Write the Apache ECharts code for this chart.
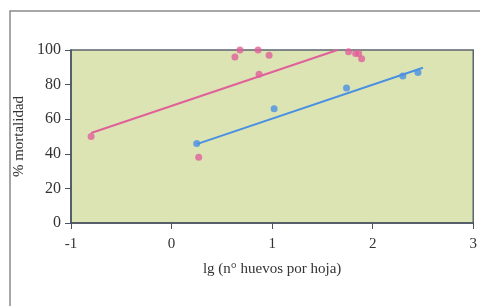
<!DOCTYPE html>
<html><head><meta charset="utf-8">
<script src="https://cdn.jsdelivr.net/npm/echarts@6/dist/echarts.min.js"></script>
<style>html,body{margin:0;padding:0;background:#fff}#c{width:480px;height:306px}</style>
</head><body><div id="c"></div>
<script>
const xTicks = [-1, 0, 1, 2, 3];
const yTicks = [0, 20, 40, 60, 80, 100];
const pinkPoints = [[-0.80, 50], [0.27, 38], [0.63, 96], [0.68, 100], [0.86, 100], [0.97, 97], [0.87, 86], [1.76, 99], [1.83, 98], [1.86, 98], [1.89, 95]];
const bluePoints = [[0.25, 46], [1.02, 66], [1.74, 78], [2.30, 85], [2.45, 87]];
const pinkLine = [[-0.80, 52], [1.65, 100]];
const blueLine = [[0.25, 45.6], [2.5, 89.7]];
const xTitle = 'lg (n° huevos por hoja)';
const yTitle = '% mortalidad';

const font = '"Liberation Serif", "DejaVu Serif", serif';
const chart = echarts.init(document.getElementById('c'));
chart.setOption({
  animation: false,
  graphic: [{type: 'rect', shape: {x: 10, y: 11, width: 500, height: 320}, style: {fill: 'none', stroke: '#8a8a8a', lineWidth: 1.5}, z: -10}],
  grid: {left: 71, right: 4, top: 50, bottom: 83, show: true, backgroundColor: '#dce4b4', borderColor: '#5d6670', borderWidth: 1.5},
  xAxis: {type: 'value', min: -1, max: 3, interval: 1,
    name: xTitle, nameLocation: 'middle', nameGap: 39,
    nameTextStyle: {fontFamily: font, fontSize: 15, color: '#333'},
    axisLine: {show: true, onZero: false, lineStyle: {color: '#4a5260', width: 1.5}},
    axisTick: {show: true, length: 6, lineStyle: {color: '#4a5260'}},
    axisLabel: {fontFamily: font, fontSize: 15, color: '#333', margin: 14, formatter: v => xTicks.includes(v) ? String(v) : ''},
    splitLine: {show: false}},
  yAxis: {type: 'value', min: 0, max: 100, interval: 20,
    name: yTitle, nameLocation: 'middle', nameGap: 42, nameRotate: 90,
    nameTextStyle: {fontFamily: font, fontSize: 15, color: '#333'},
    axisLine: {show: true, onZero: false, lineStyle: {color: '#4a5260', width: 1.5}},
    axisTick: {show: true, length: 6, lineStyle: {color: '#4a5260'}},
    axisLabel: {fontFamily: font, fontSize: 16, color: '#333', margin: 10, formatter: v => yTicks.includes(v) ? String(v) : ''},
    splitLine: {show: false}},
  series: [
    {type: 'line', data: pinkLine, symbol: 'none', lineStyle: {color: '#e0609a', width: 2}, z: 2},
    {type: 'line', data: blueLine, symbol: 'none', lineStyle: {color: '#4a90e2', width: 2}, z: 2},
    {type: 'scatter', data: pinkPoints, symbolSize: 7, itemStyle: {color: '#e0609a'}, z: 3},
    {type: 'scatter', data: bluePoints, symbolSize: 7, itemStyle: {color: '#4a90e2'}, z: 3}
  ]
});
</script></body></html>
